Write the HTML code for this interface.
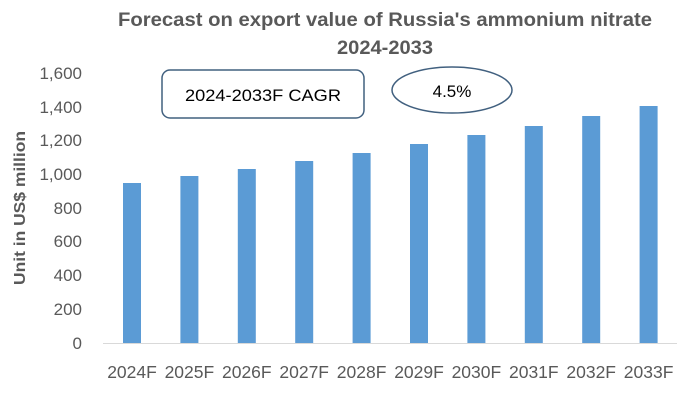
<!DOCTYPE html><html><head><style>body{margin:0;background:#fff}</style></head><body>
<svg width="685" height="403" xmlns="http://www.w3.org/2000/svg" font-family="Liberation Sans, sans-serif">
<rect width="685" height="403" fill="#fff"/>
<text x="385" y="26" text-anchor="middle" font-size="19" font-weight="bold" fill="#595959" textLength="534" lengthAdjust="spacingAndGlyphs">Forecast on export value of Russia's ammonium nitrate</text>
<text x="385" y="54" text-anchor="middle" font-size="19" font-weight="bold" fill="#595959" textLength="96" lengthAdjust="spacingAndGlyphs">2024-2033</text>
<text transform="translate(25,208) rotate(-90)" text-anchor="middle" font-size="16" font-weight="bold" fill="#595959" textLength="154" lengthAdjust="spacingAndGlyphs">Unit in US$ million</text>
<g font-size="17" fill="#595959" text-anchor="end">
<text x="82" y="79">1,600</text><text x="82" y="113">1,400</text><text x="82" y="146">1,200</text><text x="82" y="180">1,000</text><text x="82" y="214">800</text><text x="82" y="247">600</text><text x="82" y="281">400</text><text x="82" y="315">200</text><text x="82" y="349">0</text>
</g>
<line x1="103" y1="343.5" x2="677" y2="343.5" stroke="#d9d9d9" stroke-width="1"/>
<g fill="#5b9bd5">
<rect x="123" y="183" width="18" height="160"/>
<rect x="180.4" y="176" width="18" height="167"/>
<rect x="237.8" y="169" width="18" height="174"/>
<rect x="295.2" y="161" width="18" height="182"/>
<rect x="352.6" y="153" width="18" height="190"/>
<rect x="410" y="144" width="18" height="199"/>
<rect x="467.4" y="135" width="18" height="208"/>
<rect x="524.8" y="126" width="18" height="217"/>
<rect x="582.2" y="116" width="18" height="227"/>
<rect x="639.6" y="106" width="18" height="237"/>
</g>
<g font-size="17.5" fill="#595959" text-anchor="middle">
<text x="132" y="378">2024F</text><text x="189.4" y="378">2025F</text><text x="246.8" y="378">2026F</text><text x="304.2" y="378">2027F</text><text x="361.6" y="378">2028F</text><text x="419" y="378">2029F</text><text x="476.4" y="378">2030F</text><text x="533.8" y="378">2031F</text><text x="591.2" y="378">2032F</text><text x="648.6" y="378">2033F</text>
</g>
<rect x="162" y="70" width="202" height="48" rx="8" fill="#fff" stroke="#41607f" stroke-width="1.5"/>
<text x="263" y="101" text-anchor="middle" font-size="17" fill="#000" textLength="156" lengthAdjust="spacingAndGlyphs">2024-2033F CAGR</text>
<ellipse cx="452" cy="90" rx="60" ry="23" fill="#fff" stroke="#41607f" stroke-width="1.5"/>
<text x="452" y="97" text-anchor="middle" font-size="17" fill="#000">4.5%</text>
</svg>
</body></html>
